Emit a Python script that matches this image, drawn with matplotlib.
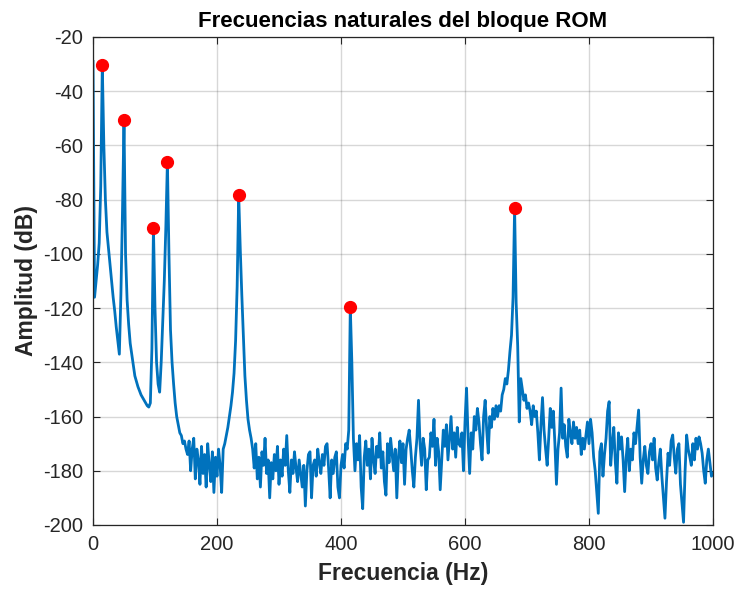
import numpy as np
import matplotlib
matplotlib.use('Agg')
from matplotlib import pyplot as plt

# === Data ===

df = 2.5  # frequency step (Hz)

# amplitude (dB), one value every 2.5 Hz from 0 to 1000 Hz
amp = [
    -29, -116, -110, -104, -96, -75, -30.5, -60, -80, -92,
    -98, -104, -110, -116, -121, -127, -132, -137, -115, -85,
    -50.5, -100, -117, -126, -133, -137, -141, -145, -147, -149,
    -150.5, -152, -153, -154, -155, -156, -156.5, -155, -135, -90.5,
    -120, -140, -148, -151, -140, -125, -110, -90, -66, -100,
    -128, -140, -148, -155, -160, -163, -166, -167, -170, -169,
    -172, -174, -169, -180, -172, -168, -183, -172, -176, -185,
    -171, -181, -174, -186, -170, -178, -184, -173, -188, -175,
    -182, -172, -178, -188, -172, -170, -167, -164, -160, -156,
    -151, -144, -132, -112, -78.3, -98, -115, -130, -145, -154,
    -161, -165, -168, -172, -179, -170, -183, -175, -186, -173,
    -178, -168, -181, -176, -190, -177, -183, -174, -180, -171,
    -185, -176, -182, -172, -178, -167, -180, -188, -176, -181,
    -173, -179, -184, -176, -181, -186, -178, -193, -180, -174,
    -173, -190, -178, -176, -182, -172, -177, -181, -174, -178,
    -171, -170, -179, -190, -176, -181, -175, -173, -186, -190,
    -178, -174, -179, -170, -172, -165, -119.6, -140, -168, -180,
    -170, -176, -167, -186, -194, -175, -169, -178, -172, -183,
    -168, -176, -181, -171, -175, -166, -179, -173, -184, -189,
    -170, -177, -168, -174, -180, -172, -190, -175, -169, -177,
    -170, -185, -172, -168, -165, -172, -180, -186, -175, -168,
    -154, -170, -178, -168, -172, -187, -176, -175, -166, -171,
    -161, -178, -168, -173, -187, -176, -165, -171, -163, -176,
    -168, -160, -172, -166, -175, -164, -170, -171, -166, -180,
    -162, -149.5, -168, -181, -166, -172, -160, -165, -157, -162,
    -170, -176, -160, -154, -165, -173.5, -160, -164, -157, -161,
    -156, -160, -156, -158, -152, -150, -146, -148, -143, -136,
    -130, -116, -83, -118, -134, -162, -146, -150, -154, -152,
    -157, -155, -158, -163, -156, -160, -158, -166, -176, -163,
    -153, -165, -172, -178, -168, -157, -164, -158, -170, -185,
    -172, -166, -149.5, -168, -163, -171, -175, -161, -166, -170,
    -162, -168, -164, -170, -165, -174, -168, -172, -167, -162,
    -170, -161, -166, -175, -180, -188, -195.7, -173, -170, -182,
    -174, -168, -158, -154.5, -178, -170, -164, -177, -184.6, -166,
    -172, -167.5, -176, -187.7, -175, -168, -180, -172, -176, -166,
    -170, -164, -157.6, -175, -184.6, -176, -171, -178, -181, -173,
    -170, -176, -168, -179, -183.4, -177, -172, -182, -190, -197.5,
    -184, -173.5, -178, -169, -166.8, -175, -180.9, -172, -170, -185,
    -192, -199, -180, -166.8, -172, -174.8, -178, -170, -176, -168,
    -172, -167.5, -170, -173.5, -180, -184.6, -176, -172, -177, -182,
    -181,
]

# indices of the natural frequencies picked as peaks
peak_idx = [6, 20, 39, 48, 94, 166, 272]

xticks = [0, 200, 400, 600, 800, 1000]
yticks = [-200, -180, -160, -140, -120, -100, -80, -60, -40, -20]

title = 'Frecuencias naturales del bloque ROM'
xlabel = 'Frecuencia (Hz)'
ylabel = 'Amplitud (dB)'

# === Plot ===

plt.rcParams['font.family'] = ['Liberation Sans', 'DejaVu Sans']
plt.rcParams['axes.unicode_minus'] = False

amp = np.array(amp)
freq = np.arange(len(amp)) * df

fig = plt.figure(figsize=(7.39, 5.93), dpi=100)
ax = fig.add_axes([93/739, 1 - 525/593, 620/739, 488/593])

ax.plot(freq, amp, color='#0072BD', lw=2.0, zorder=2)
ax.plot(freq[peak_idx], amp[peak_idx], 'o', color='red', ms=8.5, zorder=3)

ax.set_xlim(0, 1000)
ax.set_ylim(-200, -20)
ax.set_xticks(xticks)
ax.set_yticks(yticks)
ax.tick_params(direction='in', top=True, right=True, length=5, width=0.8,
               labelsize=14.5, colors='#262626', pad=7)
for s in ax.spines.values():
    s.set_color('#262626')
    s.set_linewidth(0.9)
ax.grid(True, color='#262626', alpha=0.18, lw=1.0)
ax.set_axisbelow(True)

ax.set_title(title, fontsize=16, fontweight='bold', color='black', pad=7)
ax.set_xlabel(xlabel, fontsize=16.5, fontweight='bold', color='#262626', labelpad=6)
ax.set_ylabel(ylabel, fontsize=16.5, fontweight='bold', color='#262626', labelpad=4)

fig.savefig('out.png', dpi=100, facecolor='white')
